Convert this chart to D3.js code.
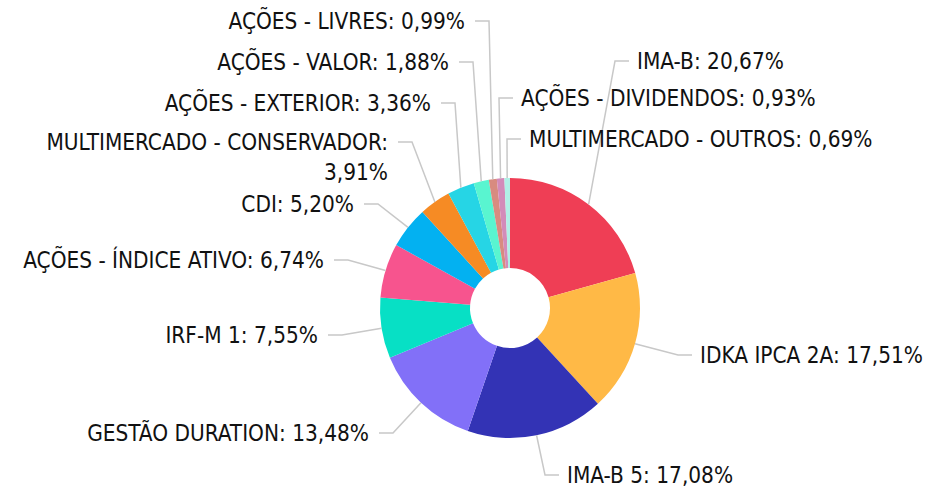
<!DOCTYPE html>
<html>
<head>
<meta charset="utf-8">
<script src="https://cdn.jsdelivr.net/npm/d3@7"></script>
<style>
  body { margin: 0; background: #fff; }
  text { font-family: "DejaVu Sans Condensed", "DejaVu Sans", sans-serif; font-size: 22.4px; fill: #111; }
</style>
</head>
<body>
<script>
const width = 925;
const height = 491;

// data
const categories = [
    "IMA-B", "IDKA IPCA 2A", "IMA-B 5", "GESTÃO DURATION", "IRF-M 1",
    "AÇÕES - ÍNDICE ATIVO", "CDI", "MULTIMERCADO - CONSERVADOR",
    "AÇÕES - EXTERIOR", "AÇÕES - VALOR", "AÇÕES - LIVRES",
    "AÇÕES - DIVIDENDOS", "MULTIMERCADO - OUTROS"
];
const values = [20.67, 17.51, 17.08, 13.48, 7.55, 6.74, 5.20, 3.91, 3.36, 1.88, 0.99, 0.93, 0.69];
const colors = [
    "#ef3e55", "#ffb946", "#3333b5", "#8270f8", "#07e0c5",
    "#f7548e", "#03b1f1", "#f68b24", "#26d5e5", "#59f5d0",
    "#d88b80", "#d38bb9", "#b0f0e6"
];

// label elbow points (layout, after overlap avoidance)
const elbowX = [615, 678, 545, 393, 342, 348, 378, 412, 455, 473, 489, 499, 507];
const elbowY = [61, 355, 475, 433, 335, 260, 204, 142, 103, 62, 21, 98, 139];
const labelSide = ["r", "r", "r", "l", "l", "l", "l", "l", "l", "l", "l", "r", "r"];

const cx = 510, cy = 308, rOuter = 130, rInner = 40;

const svg = d3.select("body")
    .append("svg")
    .attr("width", width)
    .attr("height", height)
    .attr("xmlns", "http://www.w3.org/2000/svg");

const pie = d3.pie().sort(null).value(d => d);
const arcs = pie(values);

const arc = d3.arc().innerRadius(rInner).outerRadius(rOuter);

const g = svg.append("g").attr("transform", `translate(${cx},${cy})`);

g.selectAll("path.slice")
    .data(arcs)
    .enter()
    .append("path")
    .attr("class", "slice")
    .attr("d", arc)
    .style("fill", (d, i) => colors[i]);

const fmt = v => v.toFixed(2).replace(".", ",") + "%";

arcs.forEach((d, i) => {
    const mid = (d.startAngle + d.endAngle) / 2;
    const sx = cx + rOuter * Math.sin(mid);
    const sy = cy - rOuter * Math.cos(mid);
    const dir = labelSide[i] === "r" ? 1 : -1;
    const ex = elbowX[i], ey = elbowY[i];
    const hx = ex + dir * 14;
    const tx = hx + (dir === 1 ? 8 : -10);

    svg.append("polyline")
        .attr("points", `${sx},${sy} ${ex},${ey} ${hx},${ey}`)
        .attr("fill", "none")
        .attr("stroke", "#c8c8c8")
        .attr("stroke-width", 1.5);

    const t = svg.append("text")
        .attr("x", tx)
        .attr("y", ey)
        .attr("text-anchor", dir === 1 ? "start" : "end")
        .attr("dominant-baseline", "central");

    if (categories[i] === "MULTIMERCADO - CONSERVADOR") {
        t.append("tspan").attr("x", tx).attr("dy", 0).text(categories[i] + ":");
        t.append("tspan").attr("x", tx).attr("dy", 30).text(fmt(values[i]));
    } else {
        t.text(categories[i] + ": " + fmt(values[i]));
    }
});
</script>
</body>
</html>
